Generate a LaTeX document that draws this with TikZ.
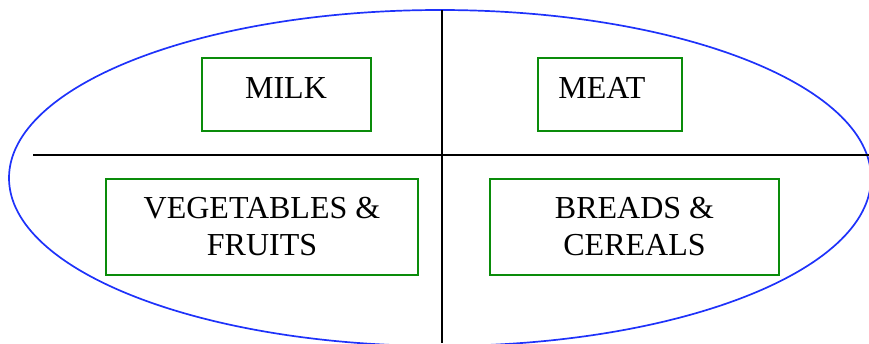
\documentclass[tikz,border=0pt]{standalone}
\usepackage{fontspec}
\setmainfont{Liberation Serif}
\definecolor{plateblue}{RGB}{30,50,250}
\definecolor{boxgreen}{RGB}{10,140,10}
\begin{document}
\begin{tikzpicture}[x=1pt,y=-1pt,
        group/.style={draw=boxgreen, line width=2pt, align=center, inner sep=0pt,
                      font=\fontsize{32}{37}\selectfont}]
        \useasboundingbox (0,0) rectangle (869,343);

        % the plate
        \coordinate (P) at (440,178);
        \draw[plateblue, line width=1.7pt] (P) ellipse [x radius=431, y radius=168];

        \coordinate (L) at (33,155);
        \coordinate (R) at (869,155);
        \coordinate (T) at (442,10);
        \coordinate (B) at (442,343);
        \draw[black, line width=1.8pt] (L) -- (R);
        \draw[black, line width=1.8pt] (T) -- (B);

        % food groups
        \node[group, minimum width=169, minimum height=73, text depth=13pt] (milk) at (286,94.5) {MILK};
        \node[group, minimum width=144, minimum height=73, text depth=13pt,
              text width=104, align=left, inner xsep=20] (meat) at (610.3,94.5) {MEAT};
        \node[group, minimum width=312, minimum height=96] (veg) at (262,227) {VEGETABLES \&\\FRUITS};
        \node[group, minimum width=289, minimum height=96] (bread) at (634.5,227) {BREADS \&\\CEREALS};
    \end{tikzpicture}
\end{document}
